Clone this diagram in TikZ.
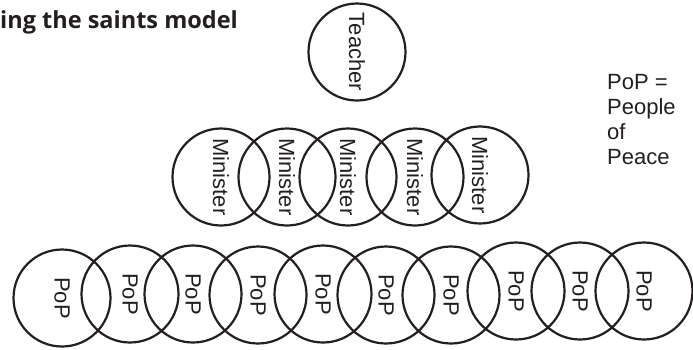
\documentclass[tikz,border=0pt]{standalone}
\usepackage{fontspec}
\setmainfont{Liberation Sans}
\newfontfamily\titlefont{Open Sans}
\definecolor{ink}{HTML}{231F20}
\begin{document}
\begin{tikzpicture}[x=1pt,y=-1pt,
  ring/.style={circle,draw=ink,line width=2.2pt,minimum size=97pt,inner sep=0pt},
  lbl/.style={text=ink,font=\fontsize{22}{25}\selectfont,rotate=-90,inner sep=0pt}]
\useasboundingbox (0,0) rectangle (693,349);
% title
\node[anchor=base west,inner sep=0pt,text=ink,font=\titlefont\bfseries\fontsize{23.5}{28}\selectfont] (title) at (0,28) {ing the saints model};
% teacher
\node[ring] (t) at (357,52) {};
\node[lbl] (tl) at (357,52) {Teacher};
% ministers
\foreach \i/\x/\y in {1/221/177,2/287/177,3/348/177,4/415/177,5/480/175}{
  \node[ring] (m\i) at (\x,\y) {};
  \node[lbl] (ml\i) at (\x,\y) {Minister};
}
% people of peace
\foreach \i/\x/\y in {1/62/298,2/130/294,3/193/294,4/258/295,5/323/294,6/386/295,7/451/295,8/516/291,9/580/291,10/644/291}{
  \node[ring] (p\i) at (\x,\y) {};
  \node[lbl] (pl\i) at (\x,\y) {PoP};
}
% legend
\node[anchor=north west,align=left,inner sep=0pt,text=ink,font=\fontsize{22}{25}\selectfont] (legend) at (607,74) {PoP =\\People\\of\\Peace};
\end{tikzpicture}
\end{document}
